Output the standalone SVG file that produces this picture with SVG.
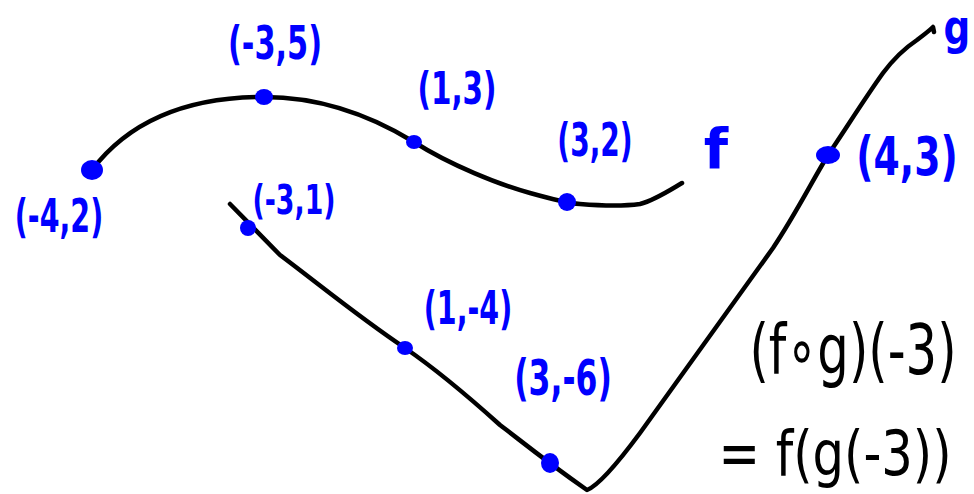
<svg xmlns="http://www.w3.org/2000/svg" width="974" height="494" viewBox="0 0 974 494">
<style>
.curve{fill:none;stroke:#000;stroke-width:4.5;stroke-linecap:round;stroke-linejoin:round}
.dot{fill:#0000ff}
.lbl{fill:#0000ff;font-family:"DejaVu Sans",sans-serif;font-weight:bold;text-anchor:middle}
.eq{fill:#000;font-family:"DejaVu Sans",sans-serif;text-anchor:middle}
</style>
<rect width="974" height="494" fill="#fff"/>
<g id="connectors">
<path id="curve-f" class="curve" d="M92,170 C130,120 190,97 264,97 C320,97 370,115 414,142 C450,165 500,185 530,193 C555,200 567,203 580,204 C605,206 625,206 640,204 C655,200 670,190 682,183"/>
<path id="curve-g" class="curve" d="M230,204 L280,255 C320,285 360,318 405,348 C440,372 470,398 500,425 C520,440 540,457 587,490 C600,485 620,460 640,433 L773,248 C795,215 810,185 828,155 C845,130 865,98 883,73 C895,57 905,48 917,40 C925,34 930,30 933,27 L934,32"/>
</g>
<g id="node-f-m4-2"><ellipse class="dot" cx="92" cy="170" rx="11" ry="10"/><text class="lbl" transform="translate(59,232) scale(0.62,1)" font-size="46">(-4,2)</text></g>
<g id="node-f-m3-5"><ellipse class="dot" cx="264" cy="97" rx="9" ry="8"/><text class="lbl" transform="translate(275,59) scale(0.66,1)" font-size="46">(-3,5)</text></g>
<g id="node-f-1-3"><ellipse class="dot" cx="414" cy="142" rx="8" ry="7"/><text class="lbl" transform="translate(457,104) scale(0.67,1)" font-size="44">(1,3)</text></g>
<g id="node-f-3-2"><ellipse class="dot" cx="567" cy="202" rx="9" ry="9"/><text class="lbl" transform="translate(595,156) scale(0.61,1)" font-size="46">(3,2)</text></g>
<g id="label-f"><text class="lbl" x="716" y="168" font-size="56">f</text></g>
<g id="node-g-m3-1"><ellipse class="dot" cx="248" cy="228" rx="8" ry="8"/><text class="lbl" transform="translate(294,214) scale(0.67,1)" font-size="40">(-3,1)</text></g>
<g id="node-g-1-m4"><ellipse class="dot" cx="405" cy="348" rx="8" ry="7"/><text class="lbl" transform="translate(468,324) scale(0.62,1)" font-size="46">(1,-4)</text></g>
<g id="node-g-3-m6"><ellipse class="dot" cx="550" cy="463" rx="9" ry="10"/><text class="lbl" transform="translate(563,395) scale(0.63,1)" font-size="50">(3,-6)</text></g>
<g id="node-g-4-3"><ellipse class="dot" cx="828" cy="155" rx="12" ry="9"/><text class="lbl" transform="translate(907,175) scale(0.7,1)" font-size="54">(4,3)</text></g>
<g id="label-g"><text class="lbl" transform="translate(957,44) scale(0.78,1)" font-size="48">g</text></g>
<g id="equation">
<text class="eq" transform="translate(853,374) scale(0.71,1)" font-size="70">(f∘g)(-3)</text>
<text class="eq" transform="translate(835,475) scale(0.8,1)" font-size="62">= f(g(-3))</text>
</g>
</svg>
